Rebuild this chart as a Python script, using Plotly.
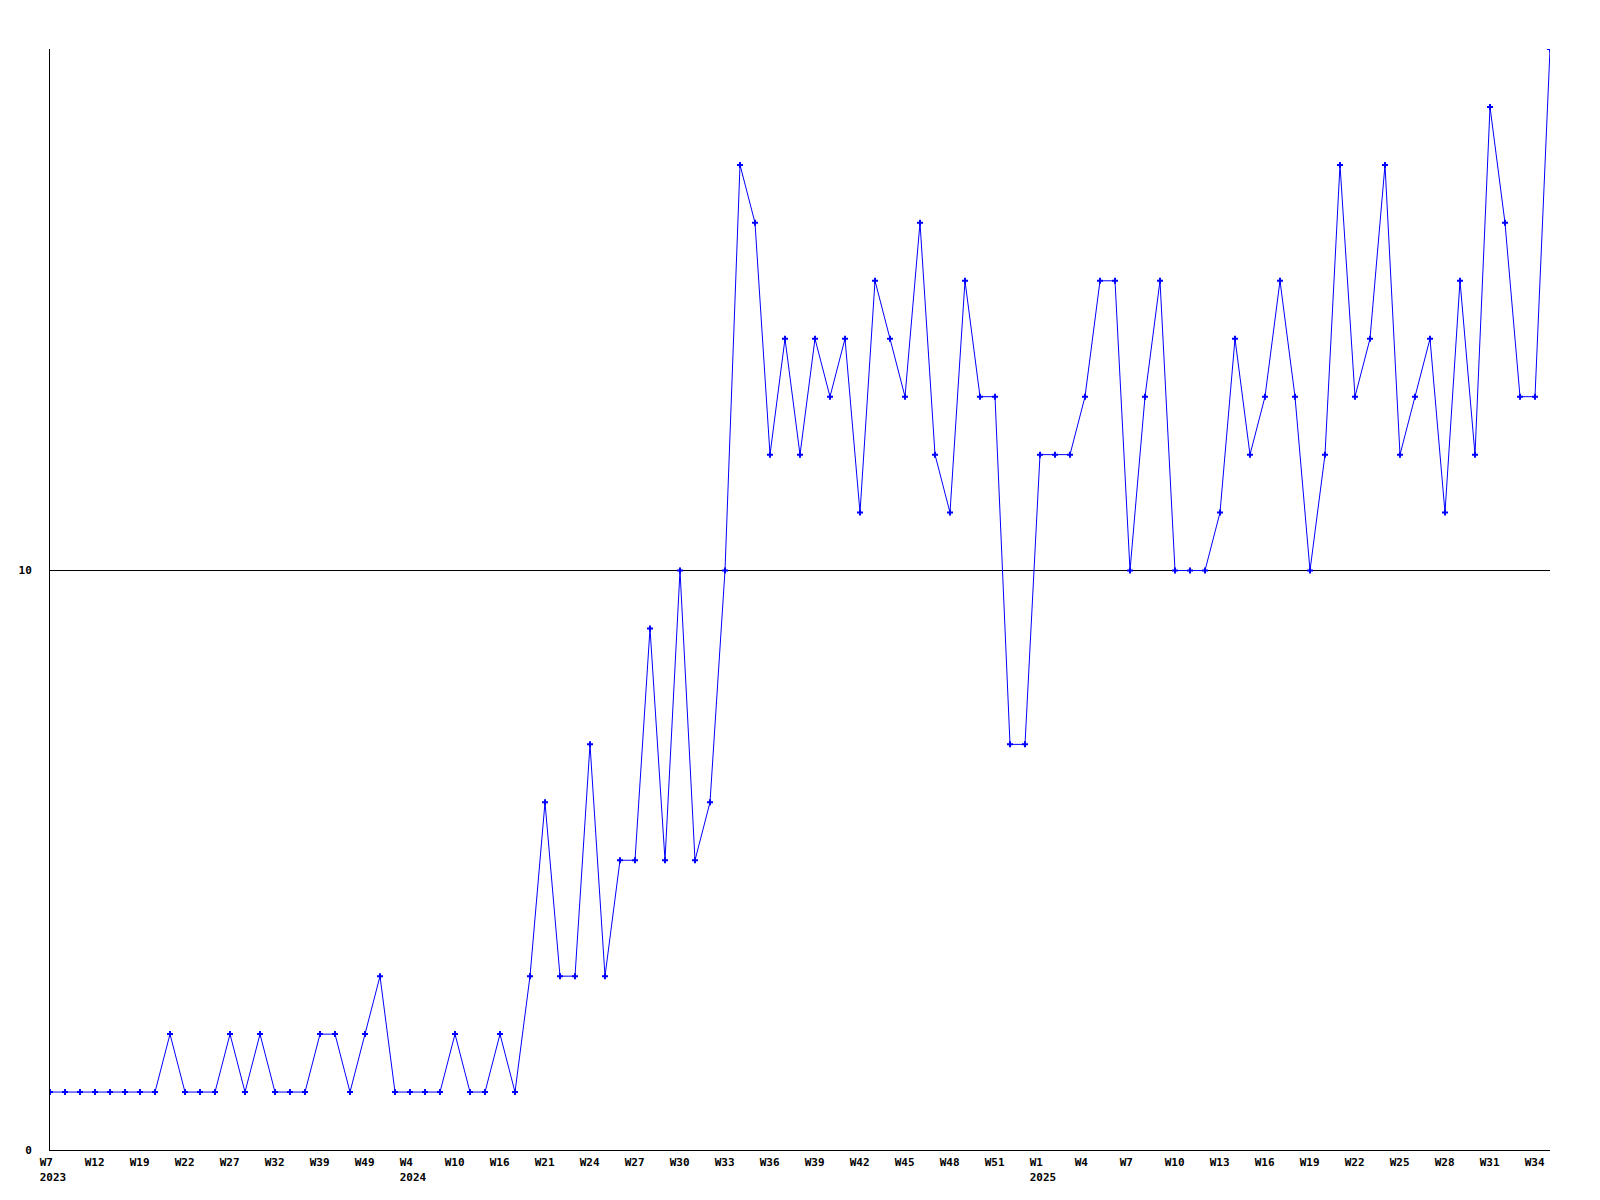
import plotly.graph_objects as go

weeks = (
    [f"2023-W{w}" for w in [7, 8, 10, 12, 14, 17, 19, 20, 21, 22, 23, 25, 27, 29, 30, 32,
                            35, 37, 39, 43, 46, 49, 51]]
    + [f"2024-W{w}" for w in [1, 4, 6, 8, 10, 12, 14, 16, 18, 20]]
    + [f"2024-W{w}" for w in range(21, 54)]
    + [f"2025-W{w}" for w in range(1, 36)]
)

values = [
    1, 1, 1, 1, 1, 1, 1, 1, 2, 1, 1, 1, 2, 1, 2, 1, 1, 1, 2, 2, 1, 2, 3,
    1, 1, 1, 1, 2, 1, 1, 2, 1, 3,
    6, 3, 3, 7, 3, 5, 5, 9, 5, 10, 5, 6, 10, 17, 16, 12, 14, 12, 14, 13, 14, 11,
    15, 14, 13, 16, 12, 11, 15, 13, 13, 7, 7,
    12, 12, 12, 13, 15, 15, 10, 13, 15, 10, 10, 10, 11, 14, 12, 13, 15, 13, 10,
    12, 17, 13, 14, 17, 12, 13, 14, 11, 15, 12, 18, 16, 13, 13, 19,
]

y_ticks = [0, 10]
tick_step = 3


def pad(s, n=4):
    # left-align labels by padding with non-breaking spaces (monospace font)
    return s + "\u00a0" * (n - len(s))


tickvals = weeks[::tick_step]
ticktext = []
seen_years = set()
for w in tickvals:
    year, wk = w.split("-")
    if year not in seen_years:
        seen_years.add(year)
        ticktext.append(f"{pad(wk)}<br>{pad(year)}")
    else:
        ticktext.append(pad(wk))

font = dict(family="DejaVu Sans Mono", size=11, color="black", weight="bold")

fig = go.Figure(
    go.Scatter(
        x=weeks,
        y=values,
        mode="lines+markers",
        line=dict(color="#0000ff", width=1),
        marker=dict(symbol="cross", size=5, color="#0000ff"),
    )
)

fig.update_layout(
    width=1600,
    height=1200,
    margin=dict(l=42, r=58, t=41, b=58),
    paper_bgcolor="white",
    plot_bgcolor="white",
    showlegend=False,
    font=font,
)

fig.update_xaxes(
    type="category",
    range=[0, len(weeks) - 1],
    tickmode="array",
    tickvals=tickvals,
    ticktext=ticktext,
    showgrid=False,
    zeroline=False,
    showline=True,
    linecolor="black",
    linewidth=1,
    ticks="",
    tickfont=font,
    tickangle=0,
    ticklabelstandoff=2,
    ticklabelshift=3,
)

fig.update_yaxes(
    range=[0, 19],
    tickmode="array",
    tickvals=y_ticks,
    showgrid=True,
    gridcolor="black",
    gridwidth=1,
    zeroline=False,
    showline=True,
    linecolor="black",
    linewidth=1,
    ticks="",
    tickfont=font,
    ticklabelstandoff=15,
)

fig.write_html("out.html")
